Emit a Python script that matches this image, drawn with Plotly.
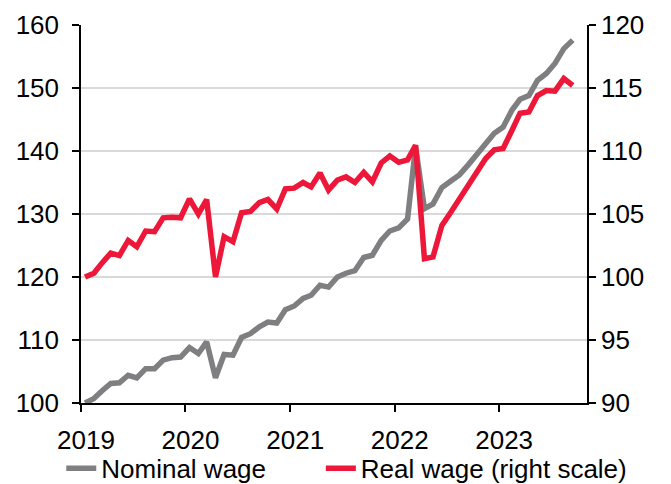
import pandas as pd
import plotly.graph_objects as go

# monthly index, Jan 2019 = 100 (points plotted mid-month)
months = pd.date_range("2019-01-01", periods=57, freq="MS") + pd.Timedelta(days=14)

nominal_wage = [
    100.0, 100.7, 101.9, 103.1, 103.2, 104.4, 104.0, 105.45, 105.45, 106.8, 107.2, 107.3,
    108.8, 107.85, 109.7, 104.0, 107.7, 107.6, 110.4, 111.0, 112.1, 112.85, 112.7, 114.8,
    115.4, 116.6, 117.1, 118.7, 118.4, 120.0, 120.6, 121.0, 123.1, 123.45, 125.8, 127.3,
    127.8, 129.2, 140.7, 130.85, 131.6, 134.2, 135.2, 136.2, 137.8, 139.4, 140.9, 142.8,
    143.8, 146.5, 148.2, 148.8, 151.2, 152.3, 153.9, 156.25, 157.6,
]

real_wage = [
    100.0, 100.3, 101.1, 101.9, 101.7, 102.9, 102.4, 103.65, 103.6, 104.7, 104.75, 104.7,
    106.2, 105.0, 106.15, 100.0, 103.2, 102.8, 105.1, 105.2, 105.9, 106.15, 105.4, 107.0,
    107.05, 107.5, 107.15, 108.25, 106.9, 107.7, 107.95, 107.5, 108.3, 107.55, 109.05, 109.6,
    109.1, 109.3, 110.45, 101.45, 101.6, 104.1, 105.1, 106.2, 107.3, 108.4, 109.4, 110.1,
    110.2, 111.65, 113.0, 113.1, 114.4, 114.8, 114.75, 115.75, 115.2,
]

year_ticks = ["2019-01-01", "2020-01-01", "2021-01-01", "2022-01-01", "2023-01-01"]
year_labels = ["2019", "2020", "2021", "2022", "2023"]

font = dict(family="Liberation Sans, Arial, sans-serif", size=26, color="black")

fig = go.Figure()

fig.add_trace(go.Scatter(
    x=months, y=nominal_wage, name="Nominal wage", mode="lines",
    line=dict(color="#7f7f81", width=5.5), legend="legend",
))
fig.add_trace(go.Scatter(
    x=months, y=real_wage, name="Real wage (right scale)", mode="lines",
    line=dict(color="#ec1739", width=5.5), yaxis="y2", legend="legend2",
))

# one legend per series so each entry sits where the reference has it
legend_style = dict(
    orientation="h", xanchor="left",
    yref="container", y=0.033, yanchor="middle",
    font=font, itemwidth=30, bgcolor="rgba(0,0,0,0)",
)

# the page body adds an 8px offset, so the figure is 8px smaller than the window
fig.update_layout(
    width=663, height=476,
    margin=dict(l=73, r=84, t=17, b=81, autoexpand=False),
    paper_bgcolor="white", plot_bgcolor="white",
    font=font,
    showlegend=True,
    legend=dict(legend_style, x=-0.039),
    legend2=dict(legend_style, x=0.474),
    xaxis=dict(
        range=["2019-01-01", "2023-11-04"],
        tickvals=year_ticks, ticktext=year_labels,
        ticks="outside", ticklen=7, tickcolor="black", tickwidth=1.5,
        showline=True, linecolor="black", linewidth=1.5,
        showgrid=False, zeroline=False, ticklabelshift=5, ticklabelstandoff=6,
    ),
    yaxis=dict(
        range=[100, 160], dtick=10,
        ticks="outside", ticklen=7, tickcolor="black", tickwidth=1.5,
        showline=True, linecolor="black", linewidth=1.5,
        showgrid=True, gridcolor="#d9d9d9", gridwidth=1.5, zeroline=False,
        ticklabelstandoff=8,
    ),
    yaxis2=dict(
        range=[90, 120], dtick=5, overlaying="y", side="right",
        ticks="outside", ticklen=7, tickcolor="black", tickwidth=1.5,
        showline=True, linecolor="black", linewidth=1.5,
        showgrid=False, zeroline=False,
    ),
)

fig.write_html("out.html")
